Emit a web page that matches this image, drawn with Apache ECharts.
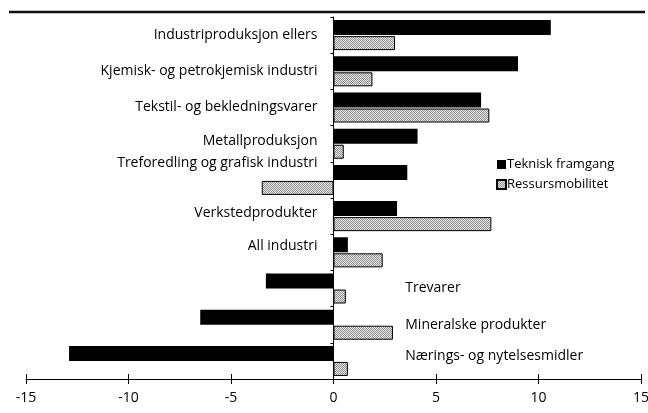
<!DOCTYPE html>
<html>
<head>
<meta charset="utf-8">
<script src="https://cdn.jsdelivr.net/npm/echarts@6/dist/echarts.min.js"></script>
<style>
  html, body { margin: 0; padding: 0; background: #fff; }
  #main { width: 648px; height: 413px; }
</style>
</head>
<body>
<div id="main"></div>
<script type="text/javascript">
  // kategorier, ovenfra og ned
  var categories = [
    'Industriproduksjon ellers',
    'Kjemisk- og petrokjemisk industri',
    'Tekstil- og bekledningsvarer',
    'Metallproduksjon',
    'Treforedling og grafisk industri',
    'Verkstedprodukter',
    'All industri',
    'Trevarer',
    'Mineralske produkter',
    'Nærings- og nytelsesmidler'
  ];
  var teknisk = [10.6, 9.0, 7.2, 4.1, 3.6, 3.1, 0.7, -3.3, -6.5, -12.9];
  var ressurs = [3.0, 1.9, 7.6, 0.5, -3.5, 7.7, 2.4, 0.6, 2.9, 0.7];
  var xTicks = [-15, -10, -5, 0, 5, 10, 15];
  // disse tre står til høyre for nullinja
  var rightLabels = ['Trevarer', 'Mineralske produkter', 'Nærings- og nytelsesmidler'];

  var font = 'Open Sans';

  // liten prikkete fyll for Ressursmobilitet
  var pat = document.createElement('canvas');
  pat.width = 2; pat.height = 2;
  var pctx = pat.getContext('2d');
  pctx.fillStyle = '#e2e2e2'; pctx.fillRect(0, 0, 2, 2);
  pctx.fillStyle = '#959595'; pctx.fillRect(0, 0, 1, 1); pctx.fillRect(1, 1, 1, 1);

  // litt løft (px) for noen etiketter
  var lift = {
    'Metallproduksjon': 3,
    'Treforedling og grafisk industri': 17,
    'Verkstedprodukter': 3,
    'All industri': 6,
    'Nærings- og nytelsesmidler': 5
  };

  // etikettene tegnes som usynlige punkter: venstre ved 0, høyre ved 3.5
  var labelData = categories.map(function (c) {
    var right = rightLabels.indexOf(c) >= 0;
    return {
      value: [right ? 3.5 : 0, c],
      label: {
        position: right ? 'right' : 'left',
        distance: right ? 0 : 16,
        offset: [0, -(lift[c] || 0)]
      }
    };
  });

  var myChart = echarts.init(document.getElementById('main'));

  var option = {
    animation: false,
    textStyle: { fontFamily: font, color: '#000' },
    grid: { left: 26, right: 7, top: 17, bottom: 34, containLabel: false, outerBoundsMode: 'none' },
    graphic: [{
      type: 'line',
      shape: { x1: 9, y1: 12, x2: 645, y2: 12 },
      style: { stroke: '#111', lineWidth: 2.5 }
    }],
    legend: {
      data: ['Teknisk framgang', 'Ressursmobilitet'],
      orient: 'vertical',
      left: 491, top: 153,
      icon: 'rect',
      itemWidth: 9, itemHeight: 9, itemGap: 7,
      textStyle: { fontFamily: font, fontSize: 13, color: '#000', padding: [0, 0, 0, -4] }
    },
    xAxis: [{
      type: 'value',
      min: xTicks[0], max: xTicks[xTicks.length - 1], interval: 5,
      splitLine: { show: false },
      axisLine: { show: true, lineStyle: { color: '#000', width: 1 } },
      axisTick: { show: true, length: 5, lineStyle: { color: '#000' } },
      axisLabel: { fontFamily: font, fontSize: 14, color: '#000', margin: 12 }
    }, {
      type: 'value', position: 'bottom',
      min: xTicks[0], max: xTicks[xTicks.length - 1], interval: 5,
      splitLine: { show: false },
      axisLine: { show: false },
      axisTick: { show: true, inside: true, length: 5, lineStyle: { color: '#000' } },
      axisLabel: { show: false }
    }],
    yAxis: {
      type: 'category',
      data: categories,
      inverse: true,
      axisLine: { show: true, onZero: true, lineStyle: { color: '#000', width: 1 } },
      axisTick: { show: true, length: 3, lineStyle: { color: '#000' } },
      axisLabel: { show: false }
    },
    series: [
      {
        name: 'Teknisk framgang',
        type: 'bar',
        data: teknisk,
        barWidth: 15,
        barGap: '7%',
        itemStyle: { color: '#000' }
      },
      {
        name: 'Ressursmobilitet',
        type: 'bar',
        data: ressurs,
        barWidth: 14,
        itemStyle: { color: { image: pat, repeat: 'repeat' }, borderColor: '#000', borderWidth: 1 }
      },
      {
        name: 'etiketter',
        type: 'scatter',
        symbolSize: 0,
        itemStyle: { opacity: 1 },
        data: labelData,
        label: {
          show: true,
          fontFamily: font, fontSize: 14, color: '#000',
          formatter: function (p) { return p.value[1]; }
        },
        silent: true
      }
    ]
  };

  myChart.setOption(option);
</script>
</body>
</html>
